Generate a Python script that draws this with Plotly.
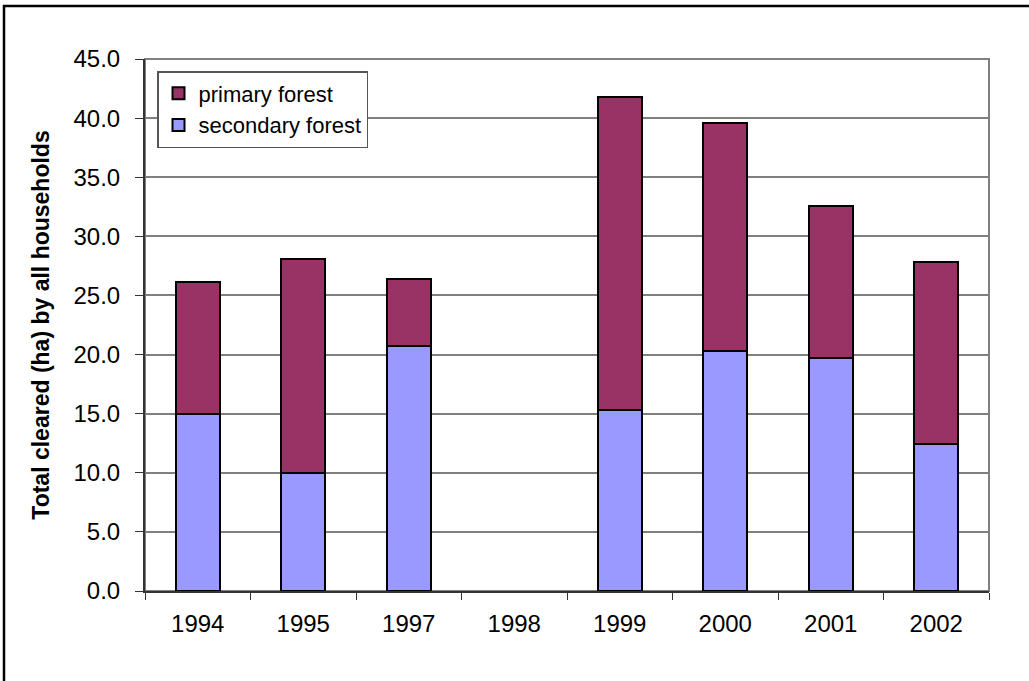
import plotly.graph_objects as go

# Area cleared per year, split by forest type (ha); no clearing recorded for 1998
years = ["1994", "1995", "1997", "1998", "1999", "2000", "2001", "2002"]
secondary_forest = [15.0, 10.0, 20.7, None, 15.3, 20.3, 19.7, 12.4]
primary_forest = [11.1, 18.1, 5.7, None, 26.5, 19.3, 12.9, 15.4]

y_ticks = [0, 5, 10, 15, 20, 25, 30, 35, 40, 45]

W, H = 1029, 681
L, R, T, B = 145, 40, 59, 90
pw, ph = W - L - R, H - T - B

font_family = "Liberation Sans, Arial, sans-serif"

fig = go.Figure()
fig.add_trace(go.Bar(
    x=years, y=secondary_forest, name="secondary forest",
    legendgroup="s",
    marker=dict(color="#9999FF", line=dict(color="#000000", width=2)),
))
fig.add_trace(go.Bar(
    x=years, y=primary_forest, name="primary forest",
    legendgroup="p",
    marker=dict(color="#993366", line=dict(color="#000000", width=2)),
))

shapes = [
    # plot-area frame
    dict(type="rect", xref="paper", yref="paper", x0=0, x1=1, y0=0, y1=1,
         line=dict(color="#808080", width=2), layer="below"),
    # outer chart border
    dict(type="rect", xref="paper", yref="paper",
         x0=(4 - L) / pw, x1=(1080 - L) / pw,
         y0=-(720 - (H - B)) / ph, y1=((H - B) - 6) / ph,
         line=dict(color="#000000", width=2.5)),
]

fig.update_layout(
    width=W, height=H,
    margin=dict(l=L, r=R, t=T, b=B, pad=0),
    paper_bgcolor="white", plot_bgcolor="white",
    barmode="stack", bargap=0.58,
    font=dict(family=font_family, color="#000000", size=24),
    shapes=shapes,
    legend=dict(
        x=(157 - L) / pw, y=((H - B) - 71) / ph, xanchor="left", yanchor="top",
        traceorder="reversed", tracegroupgap=8, itemwidth=30,
        bgcolor="white", bordercolor="#555555", borderwidth=1.5,
        font=dict(size=22, family=font_family),
    ),
    xaxis=dict(
        type="category", showgrid=False, showline=True, linecolor="#333333", linewidth=2,
        ticks="outside", tickson="boundaries", ticklen=7, tickcolor="#333333",
        tickfont=dict(size=24), ticklabelstandoff=10, fixedrange=True,
    ),
    yaxis=dict(
        range=[0, 45], tickvals=y_ticks, tickformat=".1f",
        showgrid=True, gridcolor="#808080", gridwidth=1.5,
        showline=True, linecolor="#333333", linewidth=2,
        ticks="outside", ticklen=8, tickcolor="#333333",
        tickfont=dict(size=24), ticklabelstandoff=10,
        title=dict(text="<b>Total cleared (ha) by all households</b>",
                   font=dict(size=23), standoff=17),
        zeroline=False,
    ),
    showlegend=True,
)

fig.write_html("out.html")
